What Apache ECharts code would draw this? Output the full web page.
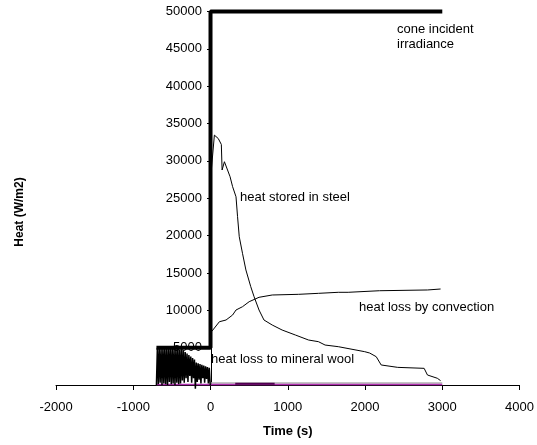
<!DOCTYPE html>
<html>
<head>
<meta charset="utf-8">
<script src="https://cdn.jsdelivr.net/npm/echarts@6/dist/echarts.min.js"></script>
<style>
html,body{margin:0;padding:0;background:#fff;}
#chart{width:537px;height:445px;}
</style>
</head>
<body>
<div id="chart"></div>
<script>
// ---- data (time s, heat W/m2) ----
var xTicks = [-2000, -1000, 0, 1000, 2000, 3000, 4000];
var yTicks = [0, 5000, 10000, 15000, 20000, 25000, 30000, 35000, 40000, 45000, 50000];

var coneTime  = [-700, 0, 0, 3000];
var coneHeat  = [5000, 5000, 50000, 50000];

var steelTime = [0, 50, 100, 140, 150, 180, 253, 286, 330, 350, 372, 414, 458, 521, 564, 628, 692, 799, 927, 1099, 1269, 1397, 1483, 1654, 1996, 2060, 2145, 2209, 2423, 2765, 2808, 2936, 2978];
var steelHeat = [27500, 33450, 33000, 32200, 28780, 29890, 27890, 26550, 25200, 22530, 19850, 17630, 15400, 13160, 11820, 10040, 8700, 8030, 7360, 6690, 6020, 5800, 5350, 5130, 4460, 4280, 3790, 2680, 2360, 2230, 1340, 900, 580];

var convTime  = [0, 30, 115, 201, 286, 330, 414, 500, 628, 799, 1141, 1397, 1654, 1782, 2188, 2808, 2829, 2978];
var convHeat  = [7000, 7360, 8470, 8700, 9370, 10040, 10480, 11150, 11740, 12050, 12140, 12270, 12410, 12410, 12620, 12720, 12850, 12850];

var woolTime  = [-700, 3000];
var woolHeat  = [60, 60];

var greyTime  = [0, 3000];
var greyHeat  = [280, 280];

var darkTime  = [320, 830];
var darkHeat  = [180, 180];

var initTime  = [-700, -688, -676, -664, -652, -640, -628, -616, -604, -592, -580, -568, -556, -544, -532, -520, -508, -496, -484, -472, -460, -448, -436, -424, -412, -400, -388, -376, -364, -352, -340, -328, -316, -304, -292, -280, -268, -256, -244, -232, -220, -208, -196, -184, -172, -160, -148, -136, -124, -112, -100, -88, -76, -64, -52, -40, -28, -16, -4, 0];
var initHeat  = [0, 5000, 100, 5000, 300, 4900, 0, 5000, 200, 5000, 100, 4800, 0, 5000, 400, 4900, 100, 5000, 200, 4900, 0, 4800, 300, 5000, 100, 4700, 200, 4900, 600, 4600, 300, 4400, 900, 4200, 400, 4000, 1200, 3800, 300, 3600, 900, 3400, -500, 3000, 400, 2900, 700, 2800, 200, 2700, 900, 2600, 300, 2500, 800, 2400, 200, 2300, 100, 0];

function pairs(xs, ys){ return xs.map(function(x,i){ return [x, ys[i]]; }); }

var FONT = "'Liberation Sans', Arial, sans-serif";
var chart = echarts.init(document.getElementById('chart'));

function line(name, xs, ys, color, width, z, step){
  var s = {
    name: name, type: 'line', data: pairs(xs, ys), showSymbol: false, symbol: 'none',
    lineStyle: {color: color, width: width}, itemStyle: {color: color},
    animation: false, z: z || 2, clip: false
  };
  if (step) s.step = step;
  return s;
}

var numFmt = function(v){ return String(v); };

chart.setOption({
  animation: false,
  backgroundColor: '#ffffff',
  grid: {left: 56, right: 13, top: 11.5, bottom: 60},
  xAxis: {
    type: 'value', min: xTicks[0], max: xTicks[xTicks.length-1], interval: 1000,
    name: 'Time (s)', nameLocation: 'middle', nameGap: 40,
    nameTextStyle: {fontFamily: FONT, fontSize: 13, fontWeight: 'bold', color: '#000'},
    axisLine: {onZero: false, lineStyle: {color: '#000', width: 1}},
    axisTick: {show: true, length: 5, lineStyle: {color: '#000'}},
    axisLabel: {fontFamily: FONT, fontSize: 13, color: '#000', margin: 16, formatter: numFmt},
    splitLine: {show: false}
  },
  yAxis: {
    type: 'value', min: yTicks[0], max: yTicks[yTicks.length-1], interval: 5000,
    position: 'left', offset: -155,
    axisLine: {onZero: false, lineStyle: {color: '#000', width: 1}},
    axisTick: {show: true, length: 4, lineStyle: {color: '#000'}},
    axisLabel: {fontFamily: FONT, fontSize: 13, color: '#000', margin: 9, showMinLabel: false, formatter: numFmt},
    splitLine: {show: false}
  },
  graphic: [
    {type: 'text', x: 20, y: 212, rotation: Math.PI/2,
     style: {text: 'Heat (W/m2)', fontFamily: FONT, fontSize: 12, fontWeight: 'bold', fill: '#000', align: 'center', verticalAlign: 'middle'}},
    {type: 'text', left: 397, top: 22,
     style: {text: 'cone incident\nirradiance', fontFamily: FONT, fontSize: 13, lineHeight: 15, fill: '#000'}},
    {type: 'text', left: 240, top: 191,
     style: {text: 'heat stored in steel', fontFamily: FONT, fontSize: 13, fill: '#000'}},
    {type: 'text', left: 359, top: 301,
     style: {text: 'heat loss by convection', fontFamily: FONT, fontSize: 13, fill: '#000'}},
    {type: 'text', left: 211, top: 353,
     style: {text: 'heat loss to mineral wool', fontFamily: FONT, fontSize: 13, fill: '#000'}}
  ],
  series: [
    line('grey', greyTime, greyHeat, '#b0b0b0', 1.5, 3),
    line('heat loss to mineral wool', woolTime, woolHeat, '#b030b0', 1.5, 4),
    line('dark', darkTime, darkHeat, '#500050', 2, 4),
    line('initial', initTime, initHeat, '#000000', 1.5, 5, 'end'),
    line('heat loss by convection', convTime, convHeat, '#000000', 1, 5),
    line('heat stored in steel', steelTime, steelHeat, '#000000', 1, 5),
    line('cone incident irradiance', coneTime, coneHeat, '#000000', 4, 6)
  ]
});
</script>
</body>
</html>
